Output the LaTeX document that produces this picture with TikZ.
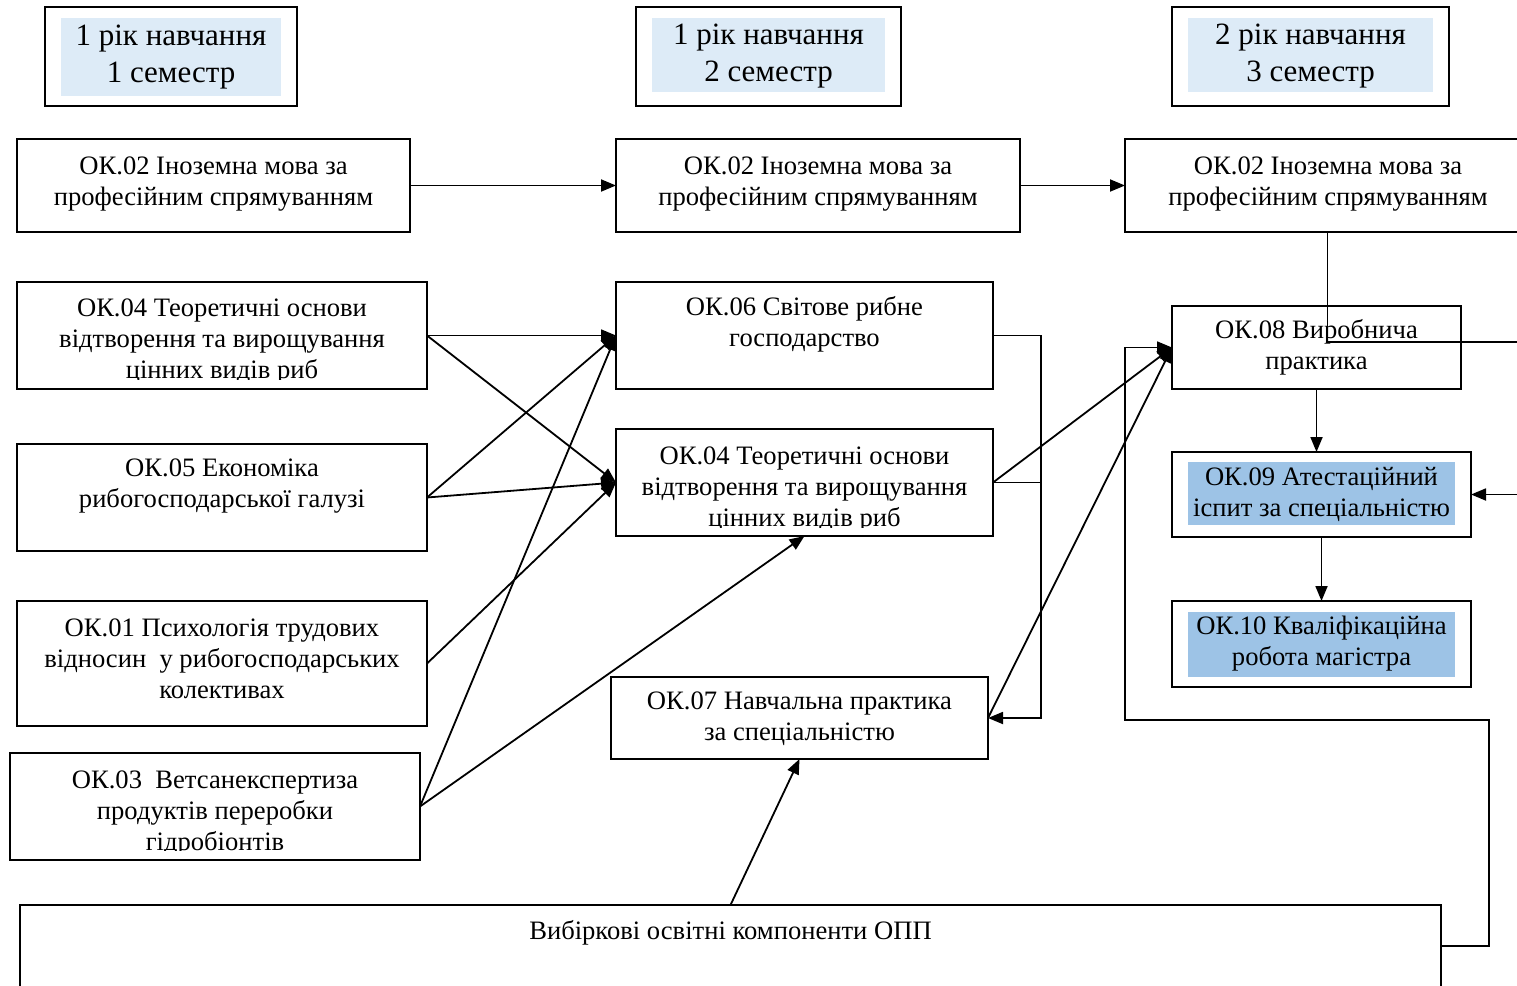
\documentclass[tikz,border=0pt]{standalone}
\usepackage{fontspec}
\setmainfont{Liberation Serif}
\usetikzlibrary{arrows.meta,calc}
\definecolor{hdrblue}{HTML}{DDEBF7}
\definecolor{hiblue}{HTML}{9DC3E6}
\begin{document}
\begin{tikzpicture}[x=1pt,y=-1pt,
  box/.style={draw=black,line width=2pt,fill=white,inner sep=0pt,outer sep=0pt},
  txt/.style={align=center,inner sep=0pt,font=\fontsize{26.6}{31}\selectfont},
  htxt/.style={align=center,inner sep=0pt,font=\fontsize{31}{37}\selectfont},
  conn/.style={line width=1.8pt,-{Triangle[length=15pt,width=12pt]}},
  plain/.style={line width=1.8pt}]
\useasboundingbox (0,0) rectangle (1517,985);
\clip (0,0) rectangle (1517,985);
% headers
\node[box,minimum width=252,minimum height=99] (h1) at (171,56.5) {};
\node[fill=hdrblue,minimum width=220,minimum height=78,inner sep=0pt] (h1f) at (171,57) {};
\node[htxt] (h1t) at (171,57) {1 рік навчання\\1 семестр};
\node[box,minimum width=265,minimum height=99] (h2) at (768.5,56.5) {};
\node[fill=hdrblue,minimum width=233,minimum height=74,inner sep=0pt] (h2f) at (768.5,55) {};
\node[htxt] (h2t) at (768.5,56) {1 рік навчання\\2 семестр};
\node[box,minimum width=277,minimum height=99] (h3) at (1310.5,56.5) {};
\node[fill=hdrblue,minimum width=245,minimum height=74,inner sep=0pt] (h3f) at (1310.5,55) {};
\node[htxt] (h3t) at (1310.5,56) {2 рік навчання\\3 семестр};
% row 1
\node[box,minimum width=393,minimum height=93] (ok02a) at (213.5,185.5) {};
\node[txt] (ok02at) at (213.5,184) {ОК.02 Іноземна мова за\\професійним спрямуванням};
\node[box,minimum width=404,minimum height=93] (ok02b) at (818,185.5) {};
\node[txt] (ok02bt) at (818,184) {ОК.02 Іноземна мова за\\професійним спрямуванням};
\node[box,minimum width=405,minimum height=93] (ok02c) at (1327.5,185.5) {};
\node[txt] (ok02ct) at (1328,184) {ОК.02 Іноземна мова за\\професійним спрямуванням};
% left column
\node[box,minimum width=410,minimum height=107] (ok04a) at (222,335.5) {};
\begin{scope}
\clip (17,282) rectangle (427,379);
\node[txt] (ok04at) at (222,341) {ОК.04 Теоретичні основи\\відтворення та вирощування\\цінних видів риб};
\end{scope}
\node[box,minimum width=410,minimum height=107] (ok05) at (222,497.5) {};
\node[txt] (ok05t) at (222,486) {ОК.05 Економіка\\рибогосподарської галузі};
\node[box,minimum width=410,minimum height=125] (ok01) at (222,663.5) {};
\node[txt] (ok01t) at (222,659) {ОК.01 Психологія трудових\\відносин~ у рибогосподарських\\колективах};
\node[box,minimum width=410,minimum height=107] (ok03) at (215,806.5) {};
\begin{scope}
\clip (10,753) rectangle (420,850);
\node[txt] (ok03t) at (215,813) {ОК.03~ Ветсанекспертиза\\продуктів переробки\\гідробіонтів};
\end{scope}
% middle column
\node[box,minimum width=377,minimum height=107] (ok06) at (804.5,335.5) {};
\node[txt] (ok06t) at (804.5,324) {ОК.06 Світове рибне\\господарство};
\node[box,minimum width=377,minimum height=107] (ok04b) at (804.5,482.5) {};
\begin{scope}
\clip (616,429) rectangle (993,527);
\node[txt] (ok04bt) at (804.5,489) {ОК.04 Теоретичні основи\\відтворення та вирощування\\цінних видів риб};
\end{scope}
\node[box,minimum width=377,minimum height=82] (ok07) at (799.5,718) {};
\node[txt] (ok07t) at (799.5,719) {ОК.07 Навчальна практика\\за спеціальністю};
% right column
\node[box,minimum width=289,minimum height=83] (ok08) at (1316.5,347.5) {};
\node[txt] (ok08t) at (1316.5,347.5) {ОК.08 Виробнича\\практика};
\node[box,minimum width=299,minimum height=85] (ok09) at (1321.5,494.5) {};
\node[fill=hiblue,minimum width=267,minimum height=63,inner sep=0pt] (ok09f) at (1321.5,493.5) {};
\node[txt] (ok09t) at (1321.5,494.5) {ОК.09 Атестаційний\\іспит за спеціальністю};
\node[box,minimum width=299,minimum height=86] (ok10) at (1321.5,644) {};
\node[fill=hiblue,minimum width=267,minimum height=65,inner sep=0pt] (ok10f) at (1321.5,644.5) {};
\node[txt] (ok10t) at (1321.5,644) {ОК.10 Кваліфікаційна\\робота магістра};
% bottom
\node[box,minimum width=1421,minimum height=82] (vyb) at (730.5,946) {};
\node[txt] (vybt) at (730.5,933) {Вибіркові освітні компоненти ОПП};
% coordinates
\coordinate (r1) at (1489,720);
\coordinate (r2) at (1125,720);
\coordinate (offa) at (1530,342);
\coordinate (offb) at (1530,494.5);
% connectors
\draw[conn] (ok02a.east) -- (ok02b.west);
\draw[conn] (ok02b.east) -- (ok02c.west);
\draw[plain] (ok02c.south) |- (offa);
\draw[conn] (ok04a.east) -- (ok06.west);
\draw[conn] (ok04a.east) -- (ok04b.west);
\draw[conn] (ok05.east) -- (ok06.west);
\draw[conn] (ok05.east) -- (ok04b.west);
\draw[conn] (ok01.east) -- (ok04b.west);
\draw[conn] (ok03.east) -- (ok06.west);
\draw[conn] (ok03.east) -- (ok04b.south);
\draw[conn] (ok06.east) -- ++(48,0) |- (ok07.east);
\draw[plain] (ok04b.east) -- ++(48,0);
\draw[conn] (ok04b.east) -- (ok08.west);
\draw[conn] (ok07.east) -- (ok08.west);
\draw[conn] (vyb.east) -| (r1) -- (r2) |- (ok08.west);
\draw[conn] (ok08.south) -- (ok08.south |- ok09.north);
\draw[conn] (ok09.south) -- (ok10.north);
\draw[conn] (offb) -- (ok09.east);
\draw[conn] (vyb.north) -- (ok07.south);
\end{tikzpicture}
\end{document}
